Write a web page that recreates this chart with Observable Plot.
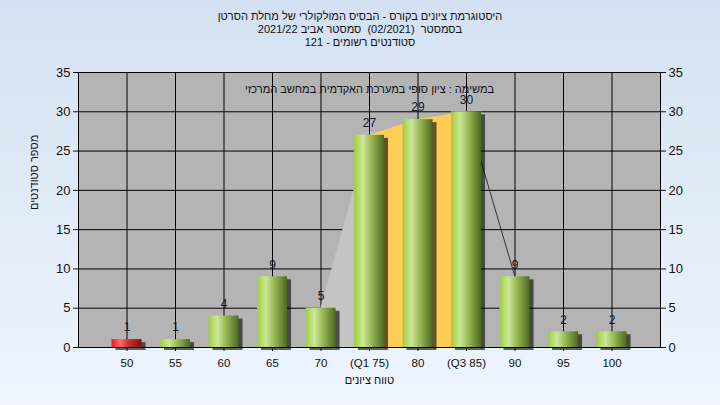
<!DOCTYPE html>
<html><head><meta charset="utf-8">
<script src="https://cdn.jsdelivr.net/npm/d3@7"></script>
<script src="https://cdn.jsdelivr.net/npm/@observablehq/plot@0.6"></script>
<style>
body{margin:0;}
#wrap{position:relative;width:720px;height:405px;background:linear-gradient(#d4e1f2,#eef5fd);font-family:"Liberation Sans","DejaVu Sans",Arial,sans-serif;overflow:hidden;}
#wrap svg{position:absolute;top:0;left:0;}
#title{position:absolute;z-index:2;top:10px;left:0;width:720px;text-align:center;font-size:11px;line-height:13px;color:#111;}
#title div{direction:rtl;unicode-bidi:embed;white-space:pre;}
</style></head><body>
<div id="wrap"><div id="title"></div></div>
<script>
// ---- data ----
const titleLines = [
  "היסטוגרמת ציונים בקורס - הבסיס המולקולרי של מחלת הסרטן",
  "בסמסטר  (02/2021)  סמסטר אביב 2021/22",
  "סטודנטים רשומים - 121"
];
const note = "במשימה : ציון סופי במערכת האקדמית במחשב המרכזי";
const xLabel = "טווח ציונים";
const yLabel = "מספר סטודנטים";
const grades = [50, 55, 60, 65, 70, 75, 80, 85, 90, 95, 100];
const tickLabels = ["50", "55", "60", "65", "70", "(Q1 75)", "80", "(Q3 85)", "90", "95", "100"];
const counts = [1, 1, 4, 9, 5, 27, 29, 30, 9, 2, 2];
const yTicks = [0, 5, 10, 15, 20, 25, 30, 35];
const passGrade = 55;
const q1Grade = 75, q3Grade = 85;

// ---- build ----
const data = grades.map((g, i) => ({grade: g, count: counts[i], label: tickLabels[i]}));
const step = grades[1] - grades[0];
const lowIdx = grades.indexOf(q1Grade), highIdx = grades.indexOf(q3Grade);
const leftPts = data.slice(lowIdx - 1, lowIdx + 1);
const iqrPts = data.slice(lowIdx, highIdx + 1);
const rightPts = data.slice(highIdx, highIdx + 2);
const halfW = 1.55;
const fail = data.filter(d => d.grade < passGrade);
const pass = data.filter(d => d.grade >= passGrade);

document.getElementById("title").innerHTML = titleLines.map(t => `<div>${t}</div>`).join("");

const font = '"Liberation Sans","DejaVu Sans",Arial,sans-serif';
const chart = Plot.plot({
  width: 720, height: 405,
  marginLeft: 78, marginRight: 60, marginTop: 72, marginBottom: 58,
  style: {background: "transparent", fontFamily: font, fontSize: "12px", color: "#111", overflow: "visible"},
  x: {domain: [grades[0] - step, grades[grades.length - 1] + step]},
  y: {domain: [0, 35]},
  marks: [
    Plot.frame({fill: "#b4b4b4"}),
    Plot.gridY(yTicks, {stroke: "#000", strokeOpacity: 1}),
    Plot.gridX(grades, {stroke: "#000", strokeOpacity: 1}),
    Plot.areaY(leftPts, {x: "grade", y: "count", fill: "#c4c4c4"}),
    Plot.areaY(iqrPts, {x: "grade", y: "count", fill: "#ffcc55"}),
    Plot.line(rightPts, {x: "grade", y: "count", stroke: "#333", strokeWidth: 1}),
    Plot.rectY(data, {x1: d => d.grade - halfW, x2: d => d.grade + halfW, y1: 0, y2: "count", fill: "#000", fillOpacity: 0.6, dx: 4, dy: 3, ariaLabel: "shadow"}),
    Plot.rectY(fail, {x1: d => d.grade - halfW, x2: d => d.grade + halfW, y1: 0, y2: "count", fill: "url(#gRed)"}),
    Plot.rectY(pass, {x1: d => d.grade - halfW, x2: d => d.grade + halfW, y1: 0, y2: "count", fill: "url(#gGreen)"}),
    Plot.text(data, {x: "grade", y: "count", text: "count", dy: -12, fill: "#141428", fontSize: 12}),
    Plot.text([note], {frameAnchor: "top", dy: 13, fill: "#111", fontSize: 11}),
    Plot.frame({stroke: "#000"}),
    Plot.axisY(yTicks, {anchor: "left", tickSize: 5, tickPadding: 3, label: null, fontSize: 13, fill: "#111"}),
    Plot.axisY(yTicks, {anchor: "right", tickSize: 5, tickPadding: 3, label: null, fontSize: 13, fill: "#111"}),
    Plot.axisX(grades, {anchor: "bottom", tickSize: 4, tickPadding: 7, label: null, fontSize: 11.5, fill: "#111", tickFormat: g => tickLabels[grades.indexOf(g)]}),
    Plot.text([xLabel], {frameAnchor: "bottom", dy: 36, fill: "#111", fontSize: 11}),
    Plot.text([yLabel], {frameAnchor: "left", dx: -44, rotate: -90, fill: "#111", fontSize: 11})
  ]
});

d3.select(chart).insert("defs", ":first-child").html(`
  <linearGradient id="gGreen" x1="0" x2="1" y1="0" y2="0">
    <stop offset="0" stop-color="#9fcd3e"/>
    <stop offset="0.3" stop-color="#cce79a"/>
    <stop offset="0.55" stop-color="#9dbd58"/>
    <stop offset="1" stop-color="#4e6824"/>
  </linearGradient>
  <linearGradient id="gRed" x1="0" x2="1" y1="0" y2="0">
    <stop offset="0" stop-color="#f01818"/>
    <stop offset="0.3" stop-color="#ff6a6a"/>
    <stop offset="0.55" stop-color="#d03030"/>
    <stop offset="1" stop-color="#7a1212"/>
  </linearGradient>
  <filter id="blurShadow" x="-50%" y="-50%" width="200%" height="200%">
    <feGaussianBlur stdDeviation="1.6"/>
  </filter>`);
d3.select(chart).selectAll('g[aria-label="shadow"]').attr("filter", "url(#blurShadow)");

document.getElementById("wrap").insertBefore(chart, document.getElementById("title"));
</script>
</body></html>
